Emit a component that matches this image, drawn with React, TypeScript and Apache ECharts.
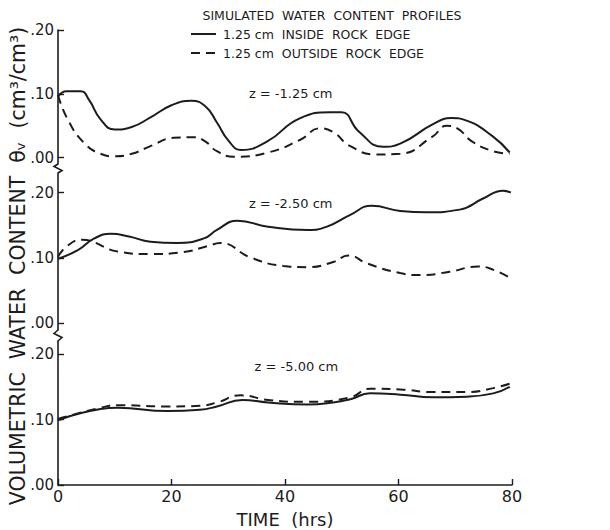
import React, { useEffect, useRef } from "react";
import * as echarts from "echarts";

// Time axis (hours)
const timeTicks = [0, 20, 40, 60, 80];
const thetaTicks = [0, 0.1, 0.2];

// [time (hrs), volumetric water content] at z = -1.25 cm
const z125Inside = [
  [0, 0.096], [1.5, 0.104], [4, 0.104], [5.5, 0.09], [7.5, 0.06], [10, 0.044], [13, 0.048],
  [16.3, 0.063], [20, 0.082], [23.5, 0.089], [26, 0.08], [28, 0.055], [30, 0.027], [32.3, 0.012],
  [36.8, 0.025], [42.7, 0.062], [48, 0.071], [50, 0.071], [53, 0.041], [57.3, 0.017],
  [60.3, 0.022], [66, 0.052], [69.3, 0.062], [72, 0.058], [76.5, 0.034], [79.6, 0.008],
];
const z125Outside = [
  [0, 0.098], [1.7, 0.06], [4.6, 0.023], [7.5, 0.006], [10, 0.002], [13, 0.006], [16.3, 0.018],
  [20.4, 0.031], [24, 0.032], [26, 0.025], [28, 0.01], [31, 0.0015], [37, 0.008],
  [42.7, 0.028], [46.2, 0.046], [48.5, 0.04], [51.5, 0.018], [56, 0.005], [60.3, 0.006],
  [66, 0.033], [68.5, 0.05], [70.5, 0.045], [73, 0.025], [76.7, 0.01], [79.6, 0.006],
];

// z = -2.50 cm
const z250Inside = [
  [0, 0.099], [3.5, 0.112], [6.4, 0.13], [9.3, 0.137], [12.5, 0.133], [16.3, 0.125], [21, 0.123],
  [25.7, 0.13], [28, 0.143], [31.6, 0.157], [37, 0.148], [44, 0.143], [47.4, 0.148],
  [51.5, 0.166], [55.3, 0.18], [60.3, 0.172], [65, 0.17], [70.8, 0.174], [74.9, 0.191],
  [78.4, 0.203], [79.8, 0.2],
];
const z250Outside = [
  [0, 0.102], [1.7, 0.119], [4.3, 0.128], [5.8, 0.126], [10.5, 0.11], [16.3, 0.106], [22, 0.109],
  [26.3, 0.118], [28.6, 0.123], [33.9, 0.101], [39.7, 0.088], [44, 0.086], [48.5, 0.094],
  [51.2, 0.104], [54.4, 0.092], [60.3, 0.077], [63.8, 0.074], [69, 0.079], [74, 0.087],
  [76.7, 0.082], [80, 0.068],
];

// z = -5.00 cm
const z500Inside = [
  [0, 0.099], [7.5, 0.116], [10.5, 0.118], [19.3, 0.113], [25, 0.115], [28, 0.12], [32.5, 0.13],
  [37, 0.126], [44, 0.123], [48.5, 0.126], [51.5, 0.131], [55, 0.14], [60.3, 0.138],
  [66, 0.134], [72, 0.135], [76.7, 0.14], [79.6, 0.15],
];
const z500Outside = [
  [0, 0.101], [7.5, 0.118], [10.5, 0.122], [19.3, 0.12], [25, 0.121], [28, 0.126], [32.2, 0.137],
  [37, 0.13], [44, 0.127], [51.5, 0.134], [55, 0.147], [60.3, 0.146], [66, 0.142],
  [72, 0.142], [76.7, 0.148], [80, 0.156],
];

const depthLabels = ["z = -1.25 cm", "z = -2.50 cm", "z = -5.00 cm"];
const insideName = "1.25 cm  INSIDE  ROCK  EDGE";
const outsideName = "1.25 cm  OUTSIDE  ROCK  EDGE";

const INK = "#1c1c1c";
const FONT = "DejaVu Sans";
const DASH = [9, 6];

const fmtTheta = (v: number) => "." + String(Math.round(v * 100)).padStart(2, "0");

export default function App() {
  const ref = useRef<HTMLDivElement>(null);

  useEffect(() => {
    if (!ref.current) return;
    document.body.style.margin = "0";
    const chart = echarts.init(ref.current, null, { renderer: "svg" });

    const left = 58;
    const right = 98;
    const grids = [
      { top: 30, height: 134, min: -0.01, max: 0.2 },
      { top: 173, height: 157, min: -0.01, max: 0.23 },
      { top: 341, height: 144, min: 0, max: 0.22 },
    ];
    const panels = [
      [z125Inside, z125Outside],
      [z250Inside, z250Outside],
      [z500Inside, z500Outside],
    ];

    const series: any[] = [];
    panels.forEach(([inside, outside], i) => {
      series.push({
        type: "line",
        name: insideName,
        xAxisIndex: i,
        yAxisIndex: i,
        data: inside,
        smooth: 0.5,
        symbol: "none",
        lineStyle: { color: INK, width: 2, type: "solid" },
      });
      series.push({
        type: "line",
        name: outsideName,
        xAxisIndex: i,
        yAxisIndex: i,
        data: outside,
        smooth: 0.5,
        symbol: "none",
        lineStyle: { color: INK, width: 2, type: DASH },
      });
    });

    chart.setOption({
      animation: false,
      backgroundColor: "#ffffff",
      textStyle: { fontFamily: FONT, color: INK },
      title: {
        text: "SIMULATED  WATER  CONTENT  PROFILES",
        left: 327,
        top: 4,
        textAlign: "center",
        textStyle: { fontFamily: FONT, fontSize: 12.5, fontWeight: "normal", color: INK },
      },
      grid: grids.map((g) => ({
        left,
        right,
        top: g.top,
        height: g.height,
        outerBoundsMode: "none",
      })),
      xAxis: grids.map((g, i) => ({
        type: "value",
        gridIndex: i,
        min: 0,
        max: 80,
        interval: 20,
        show: i === 2,
        axisLine: { show: true, onZero: false, lineStyle: { color: INK, width: 1.6 } },
        axisTick: { show: true, inside: true, length: 6, lineStyle: { color: INK, width: 1.4 } },
        axisLabel: {
          fontFamily: FONT,
          fontSize: 16,
          color: INK,
          margin: 3,
          formatter: (v: number) => (timeTicks.includes(v) ? String(v) : ""),
        },
        splitLine: { show: false },
      })),
      yAxis: grids.map((g, i) => ({
        type: "value",
        gridIndex: i,
        min: g.min,
        max: g.max,
        axisLine: { show: true, onZero: false, lineStyle: { color: INK, width: 1.6 } },
        axisTick: {
          show: true,
          inside: true,
          length: 6,
          customValues: thetaTicks,
          lineStyle: { color: INK, width: 1.4 },
        },
        axisLabel: {
          fontFamily: FONT,
          fontSize: 15,
          color: INK,
          margin: 4,
          customValues: thetaTicks,
          formatter: fmtTheta,
        },
        splitLine: { show: false },
      })),
      series,
    });

    // Axis breaks between the stacked panels
    const breakAt = (yTop: number, yBottom: number) => {
      const mid = (yTop + yBottom) / 2;
      return {
        type: "polyline",
        shape: {
          points: [
            [left, yTop],
            [left - 4, mid - 2],
            [left + 4, mid + 2],
            [left, yBottom],
          ],
        },
        style: { stroke: INK, lineWidth: 1.6, fill: "none" },
      };
    };
    const bottom0 = chart.convertToPixel({ gridIndex: 0 }, [0, grids[0].min])[1];
    const top1 = chart.convertToPixel({ gridIndex: 1 }, [0, grids[1].max])[1];
    const bottom1 = chart.convertToPixel({ gridIndex: 1 }, [0, grids[1].min])[1];
    const top2 = chart.convertToPixel({ gridIndex: 2 }, [0, grids[2].max])[1];

    const captionPos = [
      chart.convertToPixel({ gridIndex: 0 }, [41, 0.1]),
      chart.convertToPixel({ gridIndex: 1 }, [41, 0.183]),
      chart.convertToPixel({ gridIndex: 2 }, [42, 0.181]),
    ];

    // Legend: line samples with their captions
    const legendRows = [
      { name: insideName, y: 34, dash: null as number[] | null },
      { name: outsideName, y: 53, dash: DASH },
    ];
    const legendGraphics: any[] = [];
    legendRows.forEach((r) => {
      legendGraphics.push({
        type: "line",
        shape: { x1: 191, y1: r.y, x2: 216, y2: r.y },
        style: { stroke: INK, lineWidth: 2, lineDash: r.dash || undefined },
      });
      legendGraphics.push({
        type: "text",
        x: 223,
        y: r.y,
        style: {
          text: r.name,
          font: `12.5px "${FONT}"`,
          fill: INK,
          align: "left",
          verticalAlign: "middle",
        },
      });
    });

    chart.setOption({
      graphic: [
        breakAt(bottom0, top1),
        breakAt(bottom1, top2),
        ...legendGraphics,
        ...captionPos.map((p, i) => ({
          type: "text",
          x: p[0],
          y: p[1],
          style: {
            text: depthLabels[i],
            font: `13px "${FONT}"`,
            fill: INK,
            align: "center",
            verticalAlign: "middle",
          },
        })),
        {
          type: "text",
          x: 18,
          y: 266,
          rotation: Math.PI / 2,
          style: {
            text: "VOLUMETRIC  WATER  CONTENT  θᵥ  (cm³/cm³)",
            font: `20.5px "${FONT}"`,
            fill: INK,
            align: "center",
            verticalAlign: "middle",
          },
        },
        {
          type: "text",
          x: 285,
          y: 519,
          style: {
            text: "TIME  (hrs)",
            font: `18px "${FONT}"`,
            fill: INK,
            align: "center",
            verticalAlign: "middle",
          },
        },
      ],
    });

    return () => chart.dispose();
  }, []);

  return <div ref={ref} style={{ width: 610, height: 530 }} />;
}
